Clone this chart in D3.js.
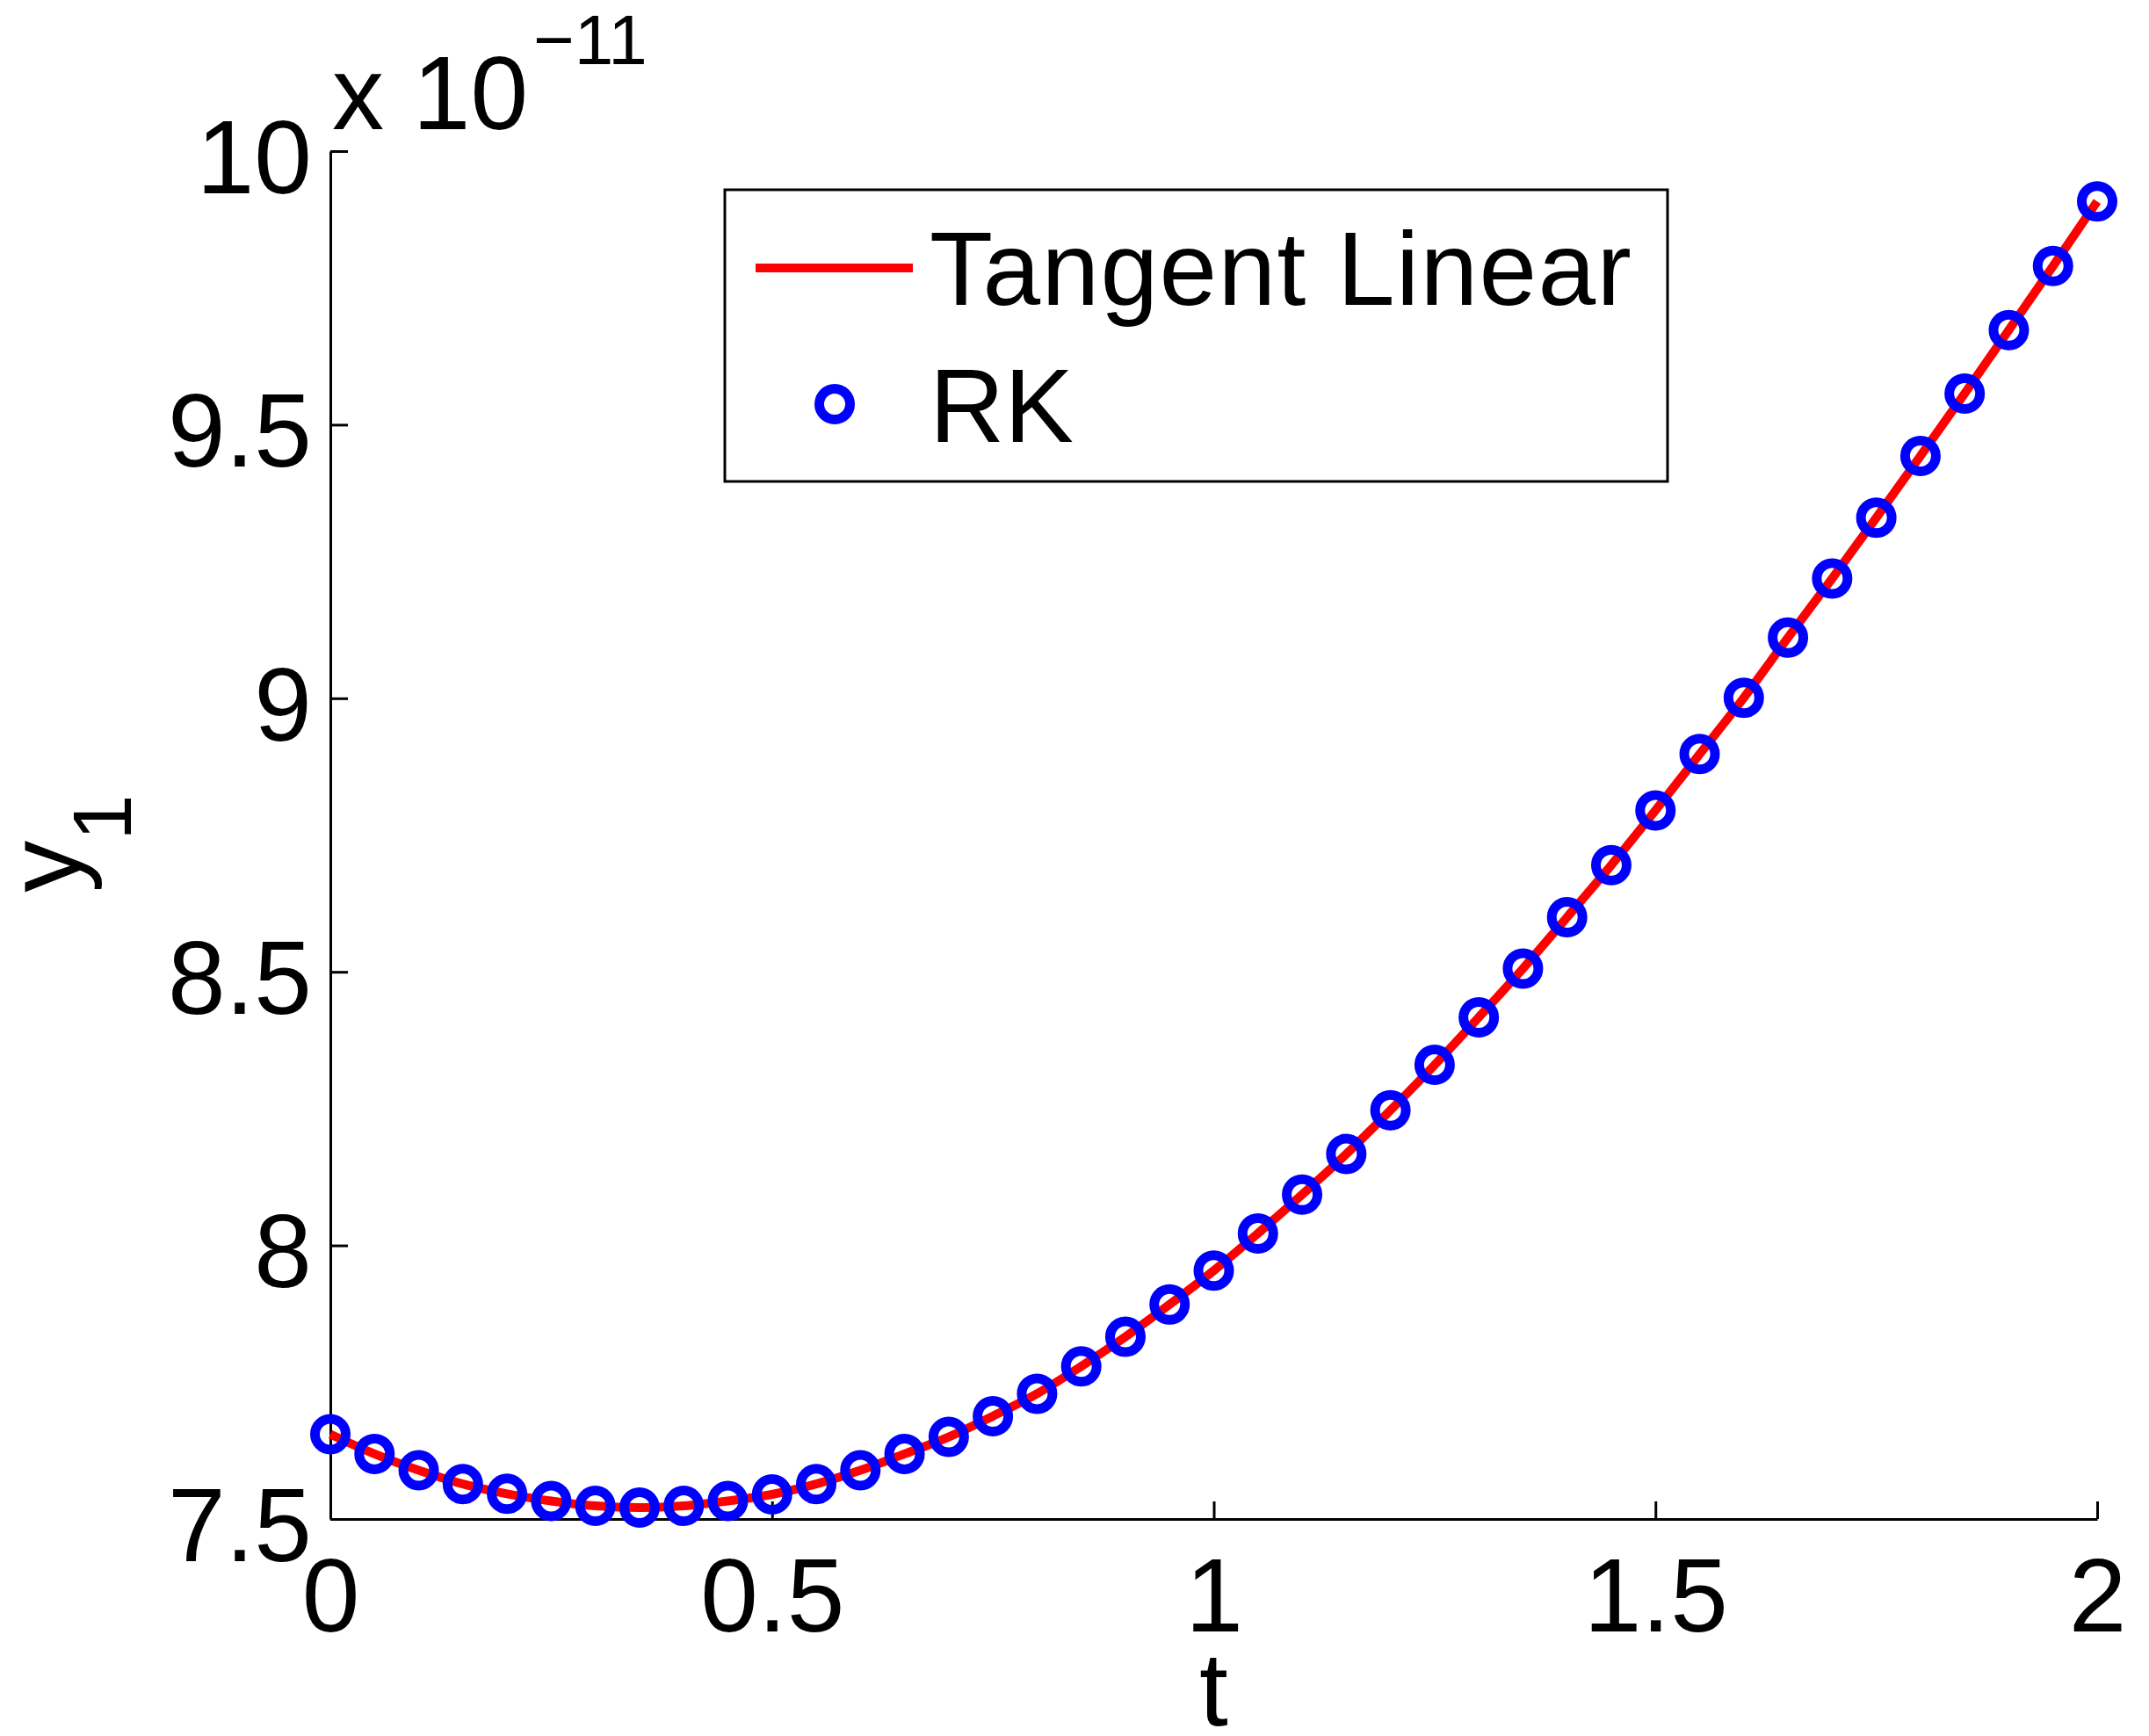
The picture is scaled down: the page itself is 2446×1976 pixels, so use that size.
<!DOCTYPE html>
<html>
<head>
<meta charset="utf-8">
<script src="https://cdn.jsdelivr.net/npm/d3@7"></script>
<style>
  html, body { margin: 0; padding: 0; background: #fff; }
  svg { display: block; }
  text { font-family: "Liberation Sans", Arial, Helvetica, sans-serif; fill: #000; }
</style>
</head>
<body>
<script>
// time samples (t) and solution component y1 (in units of 1e-11)
const tValues = [0, 0.05, 0.1, 0.15, 0.2, 0.25, 0.3, 0.35, 0.4, 0.45, 0.5, 0.55, 0.6, 0.65, 0.7,
  0.75, 0.8, 0.85, 0.9, 0.95, 1.0, 1.05, 1.1, 1.15, 1.2, 1.25, 1.3, 1.35, 1.4, 1.45, 1.5,
  1.55, 1.6, 1.65, 1.7, 1.75, 1.8, 1.85, 1.9, 1.95, 2.0];
const rkValues = [7.655, 7.619, 7.589, 7.564, 7.546, 7.533, 7.524, 7.521, 7.524, 7.533, 7.545,
  7.564, 7.589, 7.619, 7.650, 7.688, 7.729, 7.779, 7.833, 7.892, 7.954, 8.022, 8.093, 8.167,
  8.247, 8.330, 8.417, 8.506, 8.600, 8.695, 8.795, 8.898, 9.001, 9.111, 9.219, 9.330, 9.443,
  9.557, 9.673, 9.790, 9.908];
const tangentLinearValues = rkValues.slice();
const xTicks = [0, 0.5, 1, 1.5, 2];
const yTicks = [7.5, 8, 8.5, 9, 9.5, 10];
const seriesNames = ["Tangent Linear", "RK"];

const W = 2446, H = 1976;
const plotLeft = 376, plotRight = 2387, plotTop = 172, plotBottom = 1729;
const fontSize = 118;

const svg = d3.select("body").append("svg").attr("width", W).attr("height", H);

const x = d3.scaleLinear().domain([0, 2]).range([plotLeft, plotRight]);
const y = d3.scaleLinear().domain([7.5, 10]).range([plotBottom, plotTop]);

// axes: ticks point inward, no outer ticks
const xAxis = d3.axisBottom(x).tickValues(xTicks).tickFormat(d3.format("")).tickSize(-20).tickSizeOuter(0).tickPadding(44);
const yAxis = d3.axisLeft(y).tickValues(yTicks).tickFormat(d3.format("")).tickSize(-20).tickSizeOuter(0).tickPadding(21);

const gx = svg.append("g").attr("transform", `translate(0,${plotBottom})`).call(xAxis);
const gy = svg.append("g").attr("transform", `translate(${plotLeft},0)`).call(yAxis);
[gx, gy].forEach(g => {
  g.select(".domain").attr("stroke", "#000").attr("stroke-width", 3);
  g.selectAll(".tick line").attr("stroke", "#000").attr("stroke-width", 3);
  g.selectAll(".tick text").attr("font-size", fontSize).attr("font-family", "Liberation Sans, Arial, sans-serif").attr("fill", "#000");
});
gy.selectAll(".tick text").attr("dy", "0.4em");

// exponent label
const expo = svg.append("text").attr("x", 378).attr("y", 147).attr("font-size", fontSize);
expo.append("tspan").text("x 10");
expo.append("tspan").attr("dx", 6).attr("dy", -74).attr("font-size", 80).text("\u221211");

// axis titles
svg.append("text").attr("x", (plotLeft + plotRight) / 2).attr("y", 1964).attr("text-anchor", "middle")
  .attr("font-size", fontSize).text("t");
const yl = svg.append("text").attr("transform", `translate(91,960) rotate(-90)`)
  .attr("text-anchor", "middle").attr("font-size", fontSize);
yl.append("tspan").text("y");
yl.append("tspan").attr("dy", 58).attr("font-size", 94).text("1");

// tangent linear curve
const pts = tValues.map((t, i) => [t, tangentLinearValues[i]]);
const line = d3.line().x(d => x(d[0])).y(d => y(d[1])).curve(d3.curveCatmullRom);
svg.append("path").datum(pts).attr("d", line).attr("fill", "none")
  .attr("stroke", "#ff0000").attr("stroke-width", 10).attr("stroke-linejoin", "round");

// RK markers
svg.append("g").selectAll("circle").data(tValues.map((t, i) => [t, rkValues[i]])).join("circle")
  .attr("cx", d => x(d[0])).attr("cy", d => y(d[1])).attr("r", 17.5)
  .attr("fill", "none").attr("stroke", "#0000ff").attr("stroke-width", 11);

// legend
const lg = svg.append("g");
lg.append("rect").attr("x", 825).attr("y", 216).attr("width", 1073).attr("height", 332)
  .attr("fill", "#fff").attr("stroke", "#000").attr("stroke-width", 3);
lg.append("line").attr("x1", 860).attr("x2", 1039).attr("y1", 305).attr("y2", 305)
  .attr("stroke", "#ff0000").attr("stroke-width", 10);
lg.append("text").attr("x", 1058).attr("y", 347).attr("font-size", fontSize)
  .attr("letter-spacing", 1.4).text(seriesNames[0]);
lg.append("circle").attr("cx", 950).attr("cy", 460).attr("r", 17.5)
  .attr("fill", "none").attr("stroke", "#0000ff").attr("stroke-width", 11);
lg.append("text").attr("x", 1058).attr("y", 503).attr("font-size", fontSize).text(seriesNames[1]);
</script>
</body>
</html>
